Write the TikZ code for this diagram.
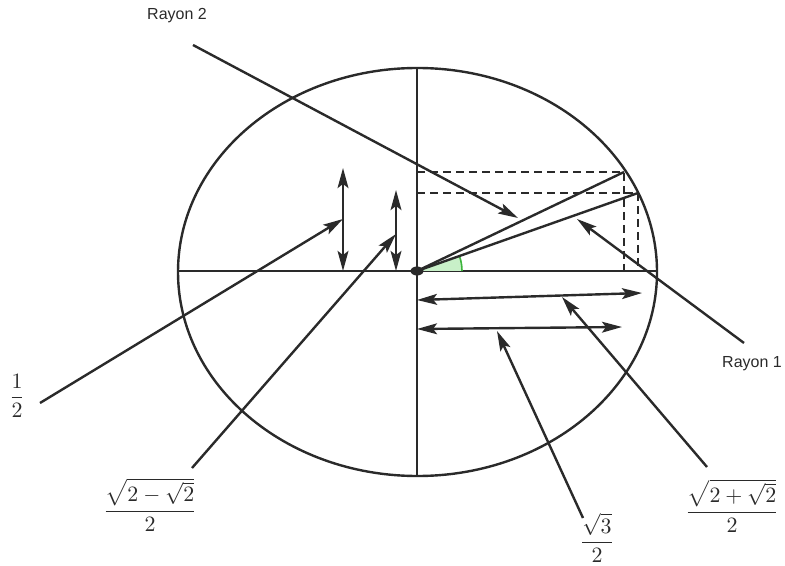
\documentclass[tikz,border=0pt]{standalone}
\usepackage{amsmath}
\usepackage{fontspec}
\newfontfamily\rayfont{Liberation Sans}
\usetikzlibrary{arrows.meta}
\definecolor{ink}{HTML}{2A2A2A}
\definecolor{angfill}{HTML}{C8F0C8}
\definecolor{angline}{HTML}{3CB43C}
\tikzset{
  line/.style={draw=ink, line width=1.2pt},
  dashline/.style={draw=ink, line width=1.2pt, dash pattern=on 4pt off 2.5pt},
  tip/.style={-{Stealth[length=10pt,width=5.4pt,inset=2pt]}},
  dtip/.style={{Stealth[length=10pt,width=5.4pt,inset=2pt]}-{Stealth[length=10pt,width=5.4pt,inset=2pt]}},
  raylabel/.style={font=\rayfont\fontsize{8}{10}\selectfont, text=ink, inner sep=0pt},
  mathlabel/.style={font=\fontsize{11}{13}\selectfont, text=ink, inner sep=0pt},
}
\begin{document}
\begin{tikzpicture}[x=0.5pt,y=-0.5pt]
\useasboundingbox (0,0) rectangle (785,566);
% key points
\coordinate (O) at (417,271);
\coordinate (P1) at (624,172);
\coordinate (P2) at (638,193);
\coordinate (Xl) at (178,271);
\coordinate (Xr) at (657,271);
\coordinate (Yt) at (417,68);
\coordinate (Yb) at (417,476);
% ellipse and axes
\draw[line] (417.5,272) ellipse [x radius=239.5, y radius=-204];
\draw[line] (Xl) -- (Xr);
\draw[line] (Yt) -- (Yb);
% angle mark
\fill[angfill] (O) -- (462,271) arc[start angle=0, end angle=19.4, x radius=45, y radius=-45] -- cycle;
\draw[angline, line width=0.8pt] (462,271) arc[start angle=0, end angle=19.4, x radius=45, y radius=-45];
% dashed projections
\coordinate (P1y) at (417,172);
\coordinate (P1x) at (624,271);
\coordinate (P2y) at (417,193);
\coordinate (P2x) at (638,271);
\draw[dashline] (P1y) -- (P1) -- (P1x);
\draw[dashline] (P2y) -- (P2) -- (P2x);
% rays
\draw[line] (O) -- (P1);
\draw[line] (O) -- (P2);
\fill[ink] (O) ellipse [x radius=6.5, y radius=4.5];
% double arrows
\coordinate (V1b) at (343,271); \coordinate (V1t) at (343,168);
\coordinate (V2b) at (396,271); \coordinate (V2t) at (396,190);
\coordinate (H1l) at (417,300); \coordinate (H1r) at (642,293);
\coordinate (H2l) at (417,329); \coordinate (H2r) at (622,327);
\draw[line, dtip] (V1b) -- (V1t);
\draw[line, dtip] (V2b) -- (V2t);
\draw[line, dtip] (H1l) -- (H1r);
\draw[line, dtip] (H2l) -- (H2r);
% labels
\node[raylabel] (r2) at (177,16) {Rayon\ 2};
\node[raylabel] (r1) at (752,364) {Rayon\ 1};
\node[mathlabel] (half) at (17,396) {$\dfrac{1}{2}$};
\node[mathlabel] (smin) at (150,505) {$\dfrac{\sqrt{2-\sqrt{2}}}{2}$};
\node[mathlabel] (s3) at (597,538) {$\dfrac{\sqrt{3}}{2}$};
\node[mathlabel] (splus) at (732,506) {$\dfrac{\sqrt{2+\sqrt{2}}}{2}$};
% connector start points
\coordinate (r2s) at (193,45);
\coordinate (r2t) at (518,218);
\coordinate (r1s) at (744,343);
\coordinate (r1t) at (577,219);
\coordinate (hs) at (40,403);
\coordinate (ht) at (343,219);
\coordinate (ms) at (192,468);
\coordinate (mt) at (396,234);
\coordinate (ps) at (707,467);
\coordinate (pt) at (562,297);
\coordinate (ts) at (583,518);
\coordinate (tt) at (497,331);
\draw[line, tip] (r2s) -- (r2t);
\draw[line, tip] (r1s) -- (r1t);
\draw[line, tip] (hs) -- (ht);
\draw[line, tip] (ms) -- (mt);
\draw[line, tip] (ps) -- (pt);
\draw[line, tip] (ts) -- (tt);
\end{tikzpicture}
\end{document}
